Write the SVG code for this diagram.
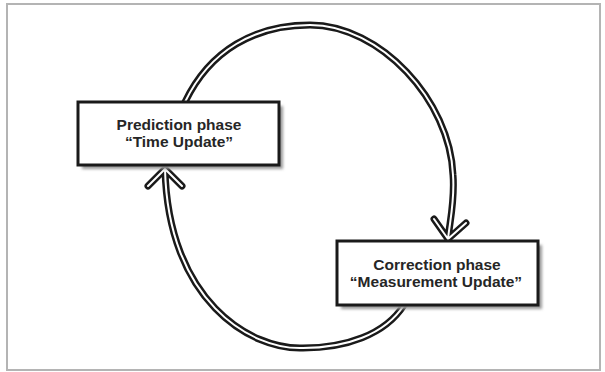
<svg xmlns="http://www.w3.org/2000/svg" width="605" height="372" viewBox="0 0 605 372">
  <defs>
    <filter id="blur" x="-10%" y="-10%" width="120%" height="130%">
      <feGaussianBlur stdDeviation="1.5"/>
    </filter>
  </defs>
  <style>
    .frame { fill: #ffffff; stroke: #b4b4b4; stroke-width: 2; }
    .outer { fill: none; stroke: #1a1a1a; stroke-width: 7; stroke-linecap: round; stroke-linejoin: round; }
    .inner { fill: none; stroke: #ffffff; stroke-width: 2; stroke-linecap: round; stroke-linejoin: round; }
    .shadow { fill: #9a9a9a; filter: url(#blur); }
    .box { fill: #ffffff; stroke: #1a1a1a; stroke-width: 3; }
    .label { font-family: "Liberation Sans", Arial, sans-serif; font-weight: bold; font-size: 15.5px; fill: #262626; text-anchor: middle; }
  </style>
  <rect width="605" height="372" fill="#ffffff"/>
  <rect class="frame" x="7" y="4" width="593" height="366"/>

  <g id="connectors">
    <path id="upper-arc-outer" class="outer" d="M183,106 L185,102 C210,50 255,25 310,25 C380,25 450,100 453,175 C455,200 450,220 448,239 M434,219 L448,239 L466,223"/>
    <path id="lower-arc-outer" class="outer" d="M408,300 L404,305 C385,335 345,348 303,348 C250,350 168,300 165,169 M148,186 L165,169 L182,186"/>
    <path id="upper-arc-inner" class="inner" d="M183,106 L185,102 C210,50 255,25 310,25 C380,25 450,100 453,175 C455,200 450,220 448,239 M434,219 L448,239 L466,223"/>
    <path id="lower-arc-inner" class="inner" d="M408,300 L404,305 C385,335 345,348 303,348 C250,350 168,300 165,169 M148,186 L165,169 L182,186"/>
  </g>

  <g id="node-prediction">
    <rect class="shadow" x="82" y="106" width="201" height="63"/>
    <rect class="box" x="78" y="102" width="201" height="63"/>
    <text class="label" x="179" y="130">Prediction phase</text>
    <text class="label" x="179" y="147">“Time Update”</text>
  </g>

  <g id="node-correction">
    <rect class="shadow" x="341" y="245" width="201" height="64"/>
    <rect class="box" x="337" y="241" width="201" height="64"/>
    <text class="label" x="437" y="270">Correction phase</text>
    <text class="label" x="436" y="287">“Measurement Update”</text>
  </g>
</svg>
